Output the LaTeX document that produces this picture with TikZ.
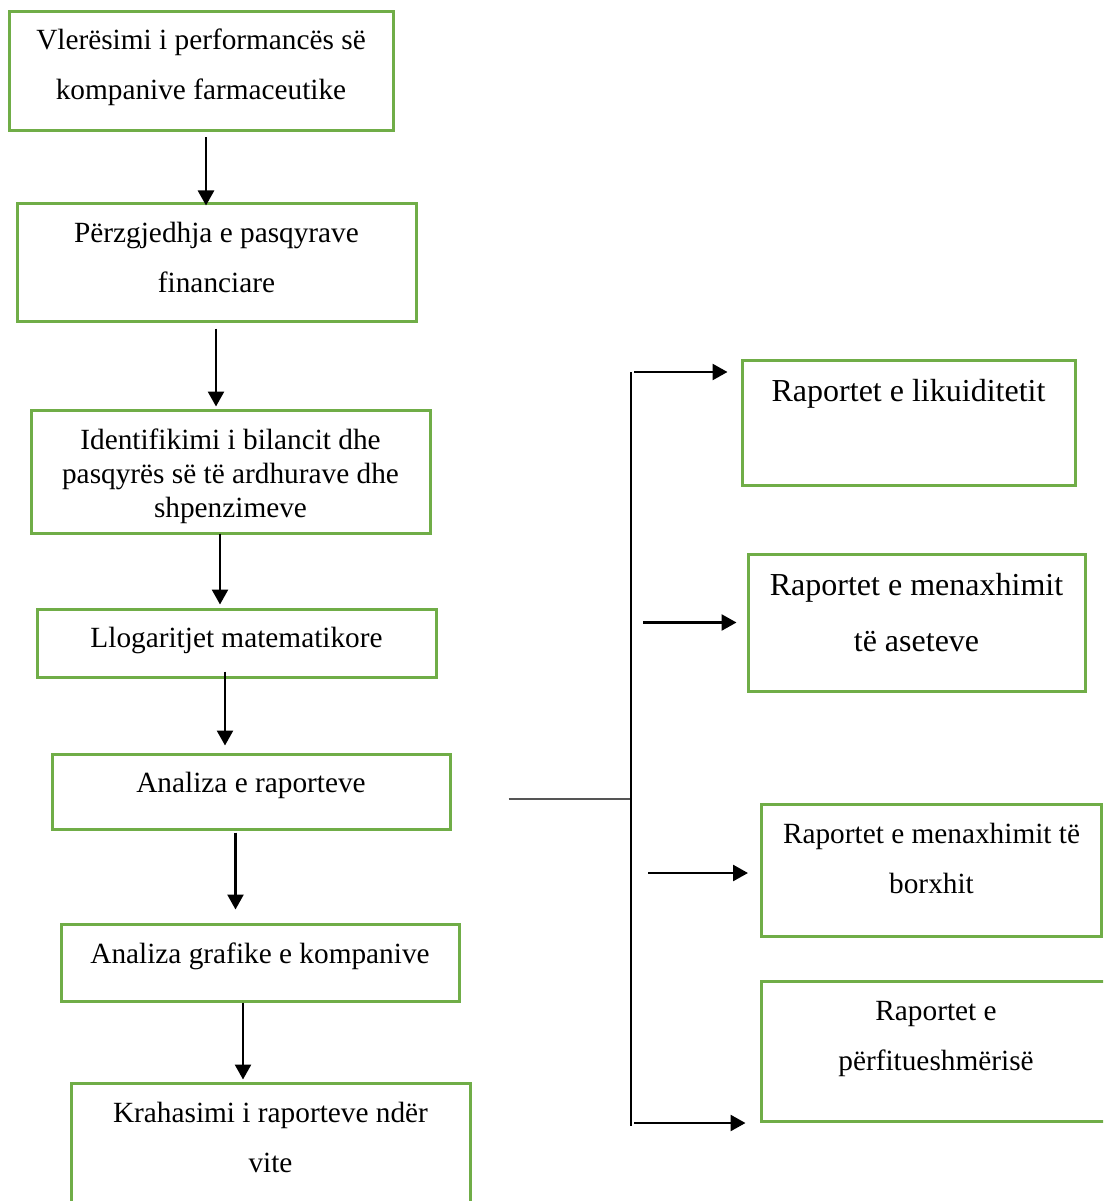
\documentclass[tikz,border=0pt]{standalone}
\usepackage{fontspec}
\setmainfont{Liberation Serif}
\usetikzlibrary{arrows.meta, calc}
\definecolor{boxgreen}{RGB}{112,173,71}
\definecolor{forkgray}{RGB}{85,85,85}

\begin{document}
\begin{tikzpicture}[
    x=1pt, y=-1pt,
    stage/.style={draw=boxgreen, line width=3pt, align=center, inner sep=0pt,
                  text depth=10pt, font=\fontsize{29.3}{50}\selectfont},
    tight/.style={font=\fontsize{29.3}{34}\selectfont},
    large/.style={font=\fontsize{32}{56}\selectfont},
    arr/.style={-{Triangle[length=15pt, width=16pt]}, line width=2.6pt},
    fork/.style={line width=1.4pt},
  ]
    \useasboundingbox (0,0) rectangle (1103,1201);
    \clip (0,0) rectangle (1103,1201);

    % left column
    \node[stage, minimum width=384pt, minimum height=119pt, text height=67pt] (b1) at (201,71.5)
      {Vlerësimi i performancës së\\kompanive farmaceutike};
    \node[stage, minimum width=399pt, minimum height=118pt, text height=70pt] (b2) at (216.5,262)
      {Përzgjedhja e pasqyrave\\financiare};
    \node[stage, tight, minimum width=399pt, minimum height=123pt, text height=101pt] (b3) at (230.5,471.5)
      {Identifikimi i bilancit dhe\\pasqyrës së të ardhurave dhe\\shpenzimeve};
    \node[stage, minimum width=399pt, minimum height=68pt, text height=18pt] (b4) at (236.5,643)
      {Llogaritjet matematikore};
    \node[stage, minimum width=398pt, minimum height=75pt, text height=11pt] (b5) at (251,791.5)
      {Analiza e raporteve};
    \node[stage, minimum width=398pt, minimum height=77pt, text height=11pt] (b6) at (260,962.5)
      {Analiza grafike e kompanive};
    \node[stage, minimum width=399pt, minimum height=130pt, text height=58pt] (b7) at (270.5,1148)
      {Krahasimi i raporteve ndër\\vite};

    % right column
    \node[stage, large, minimum width=333pt, minimum height=125pt, text height=17pt, text depth=60pt] (r1) at (908.5,422.5)
      {Raportet e likuiditetit};
    \node[stage, large, minimum width=337pt, minimum height=137pt, text height=67pt] (r2) at (916.5,622.5)
      {Raportet e menaxhimit\\të aseteve};
    \node[stage, minimum width=340pt, minimum height=132pt, text height=56pt] (r3) at (931.5,870)
      {Raportet e menaxhimit të\\borxhit};
    \node[stage, minimum width=350pt, minimum height=140pt, text height=48pt] (r4) at (936,1051)
      {Raportet e\\përfitueshmërisë};

    % bracket
    \coordinate (spine top) at (631,372);
    \coordinate (spine bot) at (631,1126);
    \coordinate (fork) at (631,799);

    \draw[arr] ($(b1.south)+(5,5)$) coordinate (a1) -- ($(a1 |- b2.north)+(0,4)$);
    \draw[arr] ($(b2.south)+(-0.5,6)$) coordinate (a2) -- ($(a2 |- b3.north)+(0,-2)$);
    \draw[arr] ($(b3.south)+(-10.5,-1)$) coordinate (a3) -- ($(a3 |- b4.north)+(0,-3)$);
    \draw[arr] ($(b4.south)+(-11.5,-7)$) coordinate (a4) -- ($(a4 |- b5.north)+(0,-7)$);
    \draw[arr] ($(b5.south)+(-15.5,2)$) coordinate (a5) -- ($(a5 |- b6.north)+(0,-13)$);
    \draw[arr] ($(b6.south)+(-17,0)$) coordinate (a6) -- ($(a6 |- b7.north)+(0,-2)$);

    \draw[fork, forkgray] ($(b5.east)+(57,7.5)$) -- (fork);
    \draw[fork] (spine top) -- (spine bot);

    \draw[arr] ($(spine top)+(3,0)$) -- ($(spine top -| r1.west)+(-13,0)$);
    \draw[arr] ($(spine top |- r2.west)+(12,0)$) -- ($(r2.west)+(-10,0)$);
    \draw[arr] ($(spine top |- r3.west)+(17,3)$) -- ($(r3.west)+(-12,3)$);
    \draw[arr] ($(spine bot)+(3,-3)$) -- ($(spine bot -| r4.west)+(-14,-3)$);
\end{tikzpicture}
\end{document}
